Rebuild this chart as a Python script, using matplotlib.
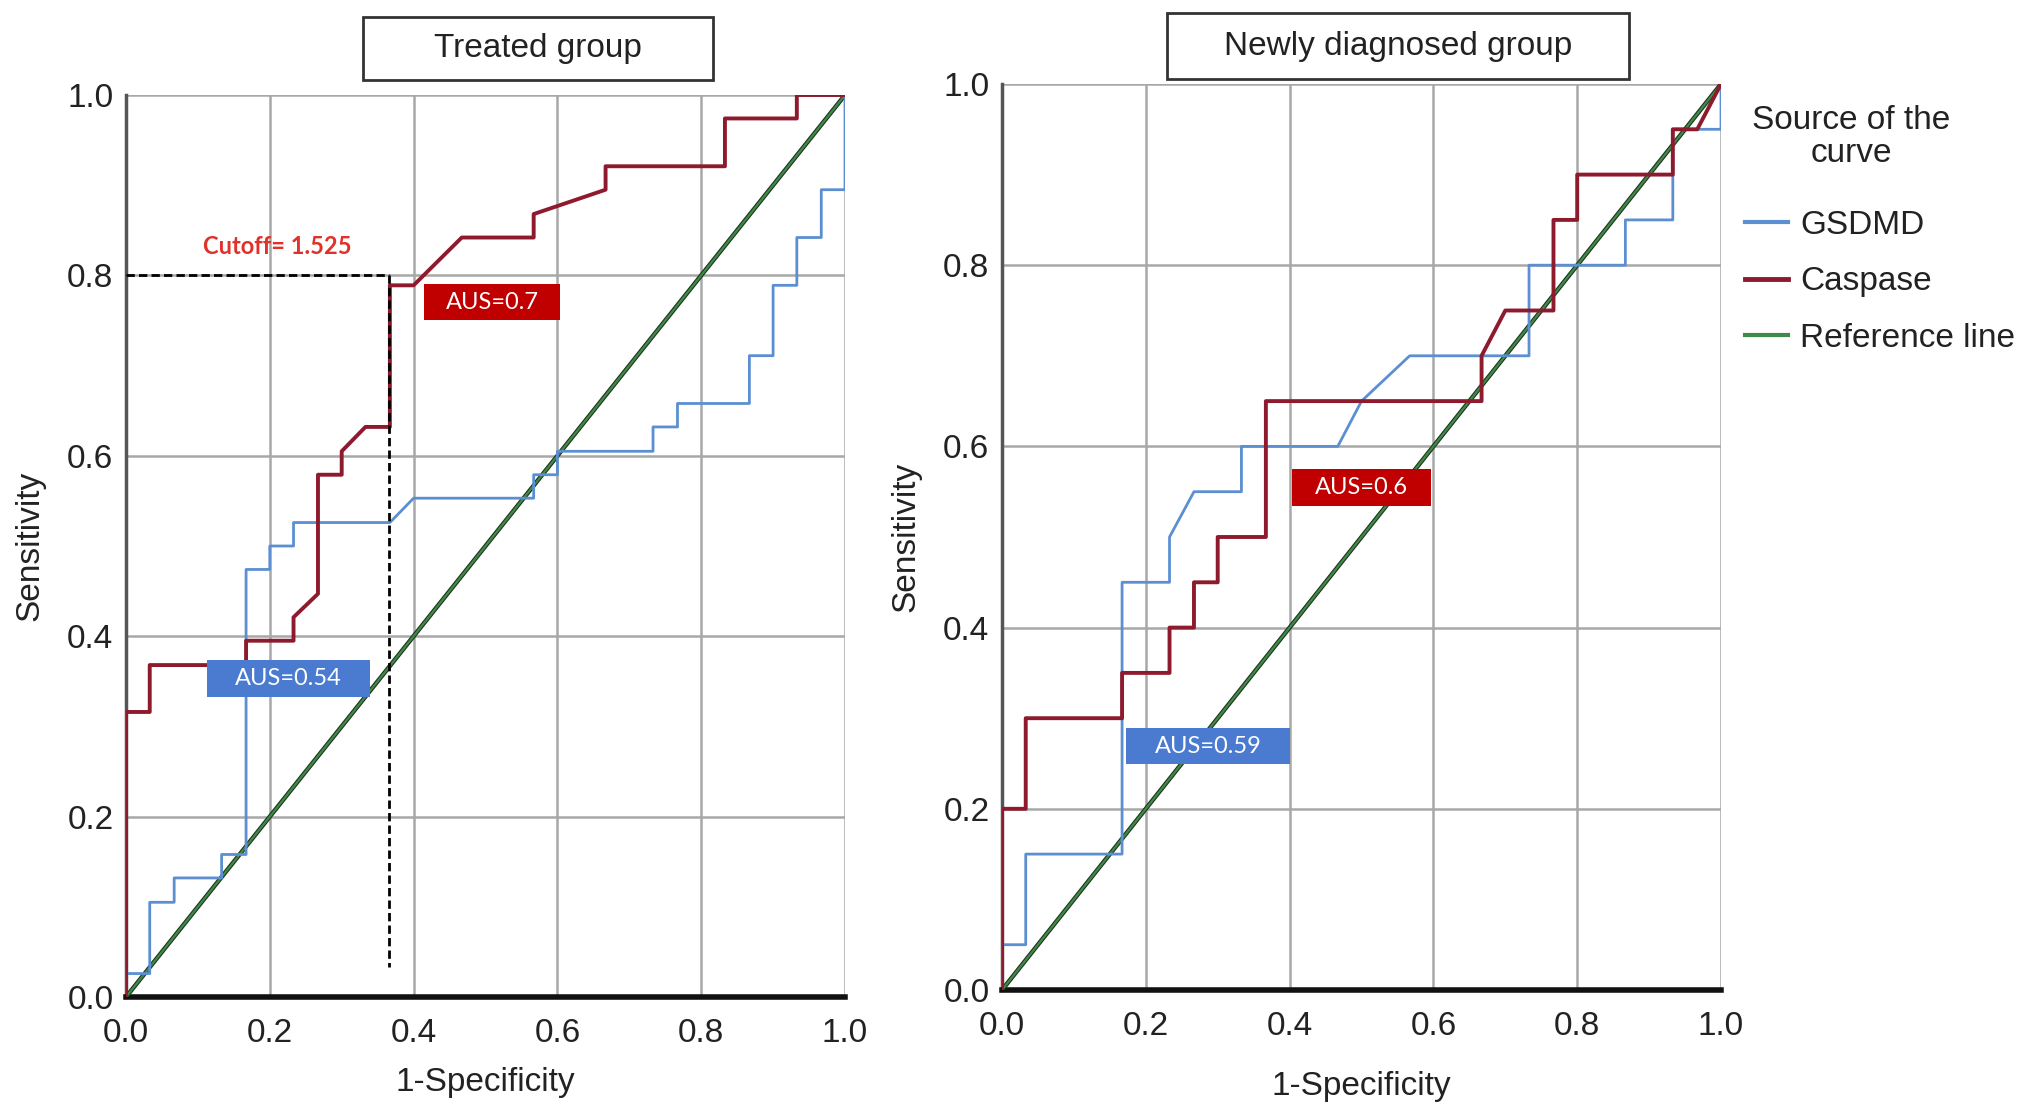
import matplotlib
matplotlib.use("Agg")
import matplotlib.pyplot as plt
import matplotlib.patheffects as pe
from matplotlib.patches import Rectangle
from matplotlib.lines import Line2D

# ---------------- data ----------------
treated_caspase_fpr = [0, 0, 0.033, 0.033, 0.167, 0.167, 0.233, 0.233, 0.267, 0.267, 0.3, 0.3, 0.333,
                       0.367, 0.367, 0.4, 0.467, 0.567, 0.567, 0.667, 0.667, 0.833, 0.833, 0.933, 0.933, 1.0]
treated_caspase_tpr = [0, 0.316, 0.316, 0.368, 0.368, 0.395, 0.395, 0.421, 0.447, 0.579, 0.579, 0.605, 0.632,
                       0.632, 0.789, 0.789, 0.842, 0.842, 0.868, 0.895, 0.921, 0.921, 0.974, 0.974, 1.0, 1.0]

treated_gsdmd_fpr = [0, 0, 0.033, 0.033, 0.067, 0.067, 0.133, 0.133, 0.167, 0.167, 0.2, 0.2, 0.233, 0.233,
                     0.367, 0.4, 0.567, 0.567, 0.6, 0.6, 0.733, 0.733, 0.767, 0.767, 0.867, 0.867, 0.9, 0.9,
                     0.933, 0.933, 0.967, 0.967, 1.0, 1.0]
treated_gsdmd_tpr = [0, 0.026, 0.026, 0.105, 0.105, 0.132, 0.132, 0.158, 0.158, 0.474, 0.474, 0.5, 0.5, 0.526,
                     0.526, 0.553, 0.553, 0.579, 0.579, 0.605, 0.605, 0.632, 0.632, 0.658, 0.658, 0.711, 0.711,
                     0.789, 0.789, 0.842, 0.842, 0.895, 0.895, 1.0]

newly_caspase_fpr = [0, 0, 0.033, 0.033, 0.167, 0.167, 0.233, 0.233, 0.267, 0.267, 0.3, 0.3, 0.367, 0.367,
                     0.667, 0.667, 0.7, 0.767, 0.767, 0.8, 0.8, 0.933, 0.933, 0.967, 1.0]
newly_caspase_tpr = [0, 0.2, 0.2, 0.3, 0.3, 0.35, 0.35, 0.4, 0.4, 0.45, 0.45, 0.5, 0.5, 0.65,
                     0.65, 0.7, 0.75, 0.75, 0.85, 0.85, 0.9, 0.9, 0.95, 0.95, 1.0]

newly_gsdmd_fpr = [0, 0, 0.033, 0.033, 0.167, 0.167, 0.233, 0.233, 0.267, 0.333, 0.333, 0.467, 0.5, 0.567,
                   0.733, 0.733, 0.867, 0.867, 0.933, 0.933, 1.0, 1.0]
newly_gsdmd_tpr = [0, 0.05, 0.05, 0.15, 0.15, 0.45, 0.45, 0.5, 0.55, 0.55, 0.6, 0.6, 0.65, 0.7,
                   0.7, 0.8, 0.8, 0.85, 0.85, 0.95, 0.95, 1.0]

reference_x = [0.0, 1.0]
reference_y = [0.0, 1.0]

cutoff_fpr = 0.366
cutoff_tpr = 0.8
cutoff_label = "Cutoff= 1.525"

panel_titles = ["Treated group", "Newly diagnosed group"]
series_names = ["GSDMD", "Caspase", "Reference line"]
legend_title = "Source of the\ncurve"
auc_treated = {"Caspase": "AUS=0.7", "GSDMD": "AUS=0.54"}
auc_newly = {"Caspase": "AUS=0.6", "GSDMD": "AUS=0.59"}
ticks = [0.0, 0.2, 0.4, 0.6, 0.8, 1.0]
tick_labels = ["0.0", "0.2", "0.4", "0.6", "0.8", "1.0"]

# ---------------- style ----------------
BLUE = "#5b8fd2"
RED = "#8e1a2e"
GREEN = "#3f8a46"
FONT = "Liberation Sans"
plt.rcParams["font.family"] = [FONT, "DejaVu Sans"]
REF_EFFECT = [pe.Stroke(linewidth=3.2, foreground="#1f3320"), pe.Normal()]

W, H = 2032, 1113
fig = plt.figure(figsize=(W / 100, H / 100), dpi=100)
ax1 = fig.add_axes([126 / W, 116 / H, 719 / W, 902 / H])
ax2 = fig.add_axes([1002 / W, 123 / H, 719 / W, 906 / H])


def style_axes(ax, xlabelpad):
    ax.set_xlim(0, 1)
    ax.set_ylim(0, 1)
    ax.set_xticks(ticks)
    ax.set_xticklabels(tick_labels)
    ax.set_yticks(ticks)
    ax.set_yticklabels(tick_labels)
    ax.grid(True, color="#a8a8a8", lw=1.8)
    ax.set_axisbelow(True)
    ax.tick_params(axis="both", length=0, labelsize=24, colors="#222222")
    ax.tick_params(axis="x", pad=15)
    ax.tick_params(axis="y", pad=9)
    for s in ("top", "right"):
        ax.spines[s].set_visible(False)
    ax.spines["left"].set_color("#555555")
    ax.spines["left"].set_linewidth(2.5)
    ax.spines["bottom"].set_color("#111111")
    ax.spines["bottom"].set_linewidth(4)
    ax.set_xlabel("1-Specificity", fontsize=24, color="#222222", labelpad=xlabelpad)
    ax.set_ylabel("Sensitivity", fontsize=24, color="#222222", labelpad=16)


def title_box(ax, text, x0, x1, y0, y1):
    ax.add_patch(Rectangle((x0, y0), x1 - x0, y1 - y0, transform=ax.transAxes,
                           facecolor="white", edgecolor="#333333", lw=2, clip_on=False, zorder=5))
    ax.text((x0 + x1) / 2, (y0 + y1) / 2, text, transform=ax.transAxes, ha="center", va="center",
            fontsize=24, color="#222222", zorder=6)


def auc_box(ax, text, x0, x1, y0, y1, color):
    ax.add_patch(Rectangle((x0, y0), x1 - x0, y1 - y0, facecolor=color, edgecolor="none", zorder=7))
    ax.text((x0 + x1) / 2, (y0 + y1) / 2, text, ha="center", va="center", fontsize=17,
            color="white", family=["Lato", "DejaVu Sans"], zorder=8)


# ---------------- treated panel ----------------
style_axes(ax1, 13)
ax1.plot(reference_x, reference_y, color=GREEN, lw=1.6, zorder=3, path_effects=REF_EFFECT)
ax1.plot(treated_gsdmd_fpr, treated_gsdmd_tpr, color=BLUE, lw=2.0, zorder=3)
ax1.plot(treated_caspase_fpr, treated_caspase_tpr, color=RED, lw=2.8, zorder=4)
ax1.plot([0, cutoff_fpr], [cutoff_tpr, cutoff_tpr], color="black", ls=(0, (3, 1.5)), lw=2, zorder=4)
ax1.plot([cutoff_fpr, cutoff_fpr], [cutoff_tpr, 0.033], color="black", ls=(0, (3, 1.5)), lw=2, zorder=4)
ax1.text(0.21, 0.832, cutoff_label, color="#e0322a", fontsize=17, fontweight="bold",
         family=["Lato", "DejaVu Sans"], ha="center", va="center")
auc_box(ax1, auc_treated["Caspase"], 0.414, 0.604, 0.750, 0.790, "#c00000")
auc_box(ax1, auc_treated["GSDMD"], 0.112, 0.339, 0.333, 0.374, "#4a7bd0")
title_box(ax1, panel_titles[0], 0.330, 0.816, 1.0166, 1.0865)

# ---------------- newly diagnosed panel ----------------
style_axes(ax2, 21)
ax2.plot(reference_x, reference_y, color=GREEN, lw=1.6, zorder=3, path_effects=REF_EFFECT)
ax2.plot(newly_gsdmd_fpr, newly_gsdmd_tpr, color=BLUE, lw=2.0, zorder=3)
ax2.plot(newly_caspase_fpr, newly_caspase_tpr, color=RED, lw=2.8, zorder=4)
auc_box(ax2, auc_newly["Caspase"], 0.404, 0.596, 0.534, 0.575, "#c00000")
auc_box(ax2, auc_newly["GSDMD"], 0.173, 0.400, 0.249, 0.289, "#4a7bd0")
title_box(ax2, panel_titles[1], 0.2295, 0.872, 1.0055, 1.078)

# ---------------- legend ----------------
fig.text(1851 / W, 1 - 137 / H, legend_title, ha="center", va="center", fontsize=24,
         color="#222222", multialignment="center", linespacing=1.05)
handles = [Line2D([], [], color=BLUE, lw=3), Line2D([], [], color=RED, lw=3.5),
           Line2D([], [], color=GREEN, lw=3)]
leg = fig.legend(handles, series_names, loc="upper left",
                 bbox_to_anchor=(1745 / W, 1 - 210 / H), frameon=False, fontsize=24,
                 handlelength=1.3, handletextpad=0.35, labelspacing=0.76,
                 borderpad=0, borderaxespad=0)
for t in leg.get_texts():
    t.set_color("#222222")

fig.savefig("out.png", dpi=100)
